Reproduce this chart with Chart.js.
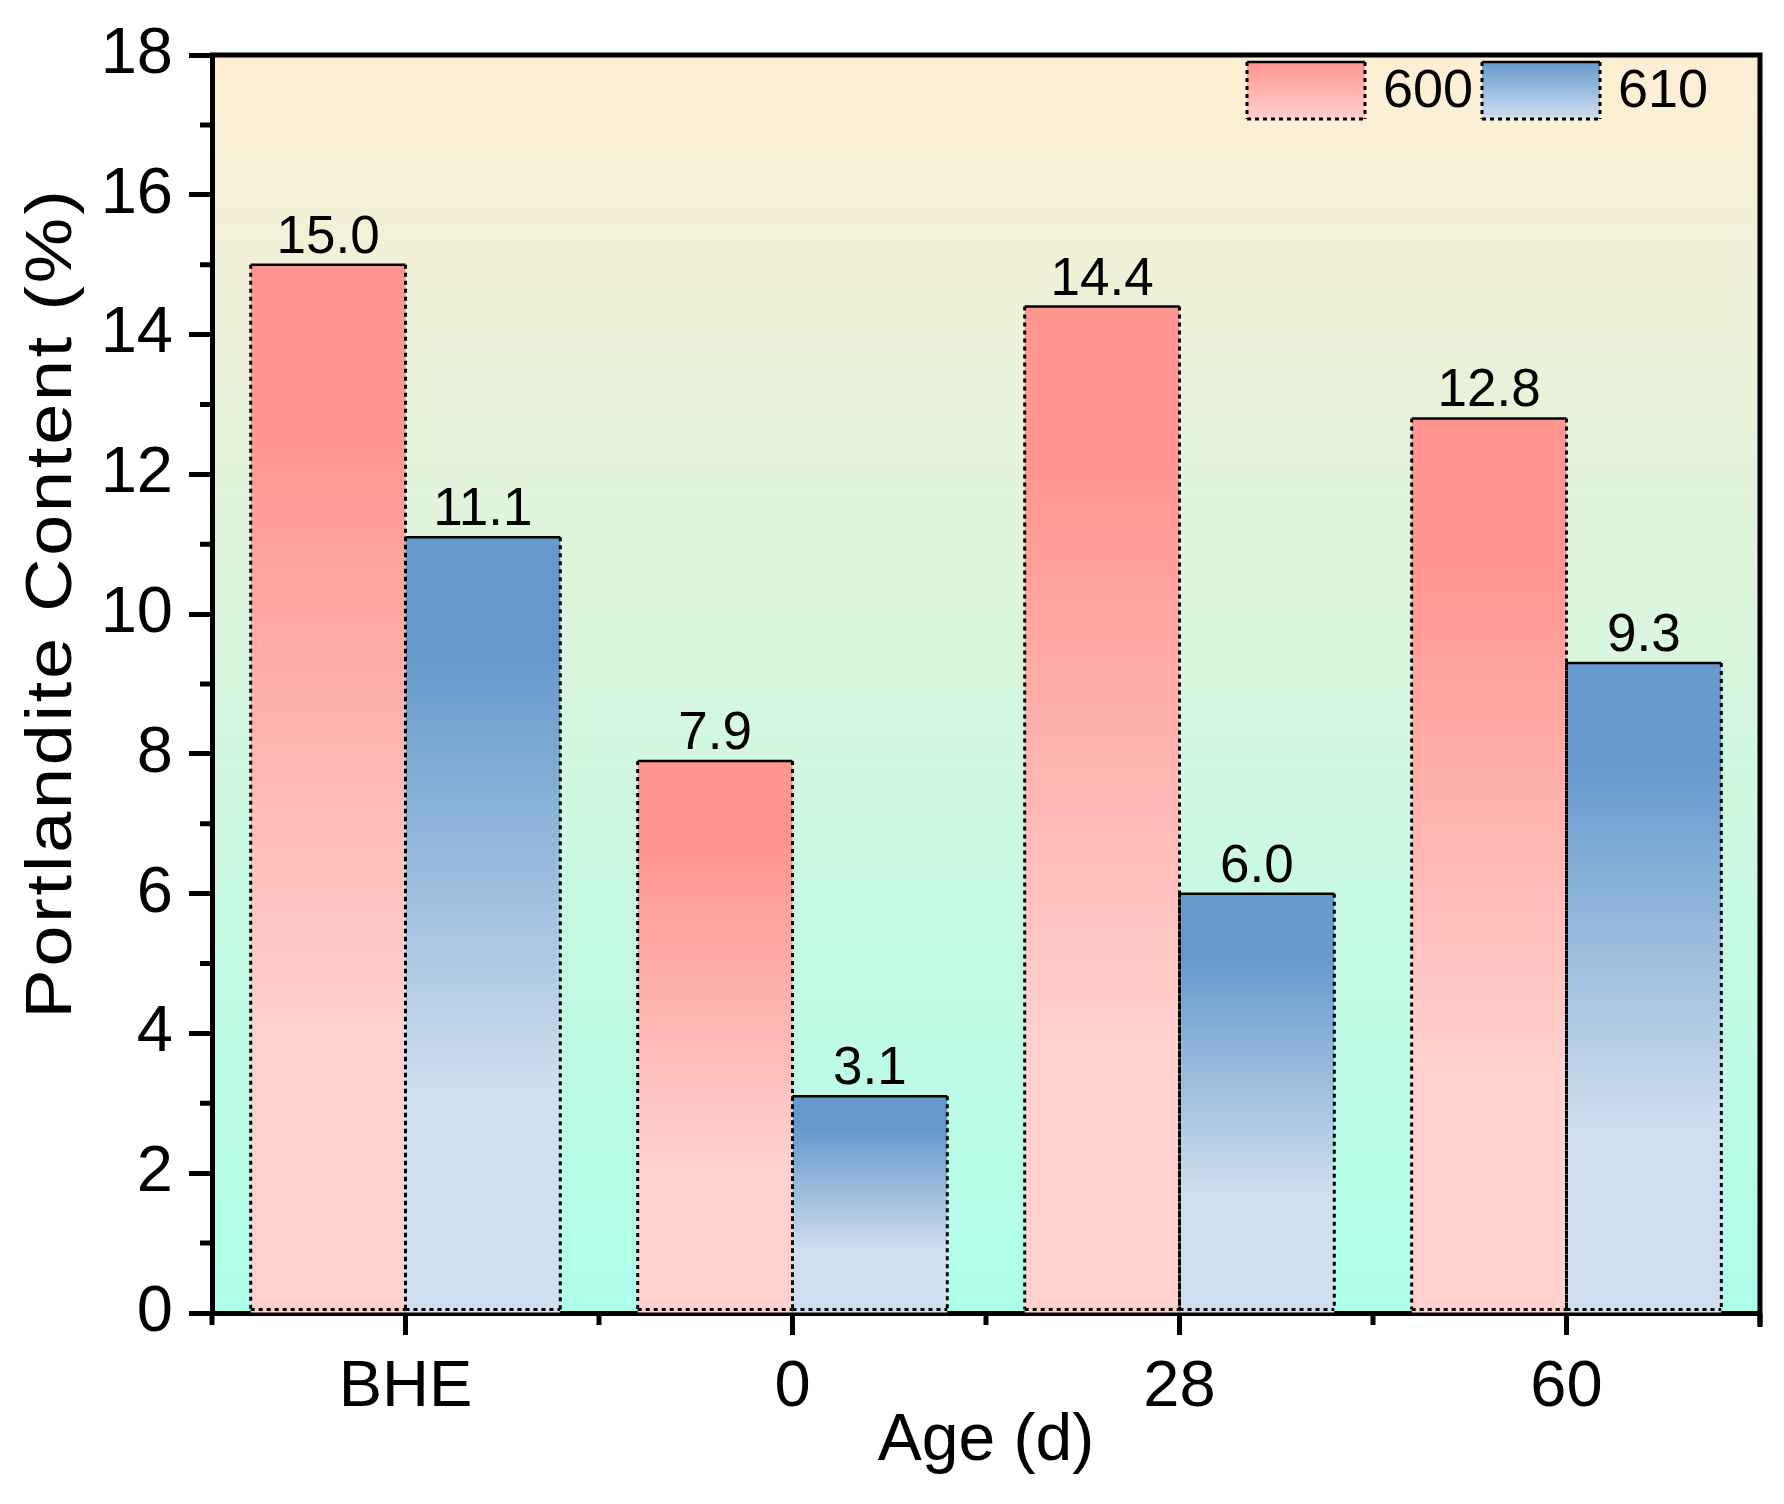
<!DOCTYPE html>
<html>
<head>
<meta charset="utf-8">
<script src="https://cdn.jsdelivr.net/npm/chart.js@4.4.0/dist/chart.umd.min.js"></script>
<style>
  html, body { margin: 0; padding: 0; background: #fff; }
  canvas { display: block; }
</style>
</head>
<body>
<canvas id="chart" width="1784" height="1504"></canvas>
<script>
// data
const categories = ['BHE', '0', '28', '60'];
const seriesNames = ['600', '610'];
const values600 = [15.0, 7.9, 14.4, 12.8];
const values610 = [11.1, 3.1, 6.0, 9.3];
const yMin = 0, yMax = 18, yStep = 2;
const yTitle = 'Portlandite Content (%)';
const xTitle = 'Age (d)';

const FONT = "'Liberation Sans', Arial, sans-serif";
// top colour, light colour
const PINK = ['#ff958f', '#ffd0cd'];
const BLUE = ['#6699cc', '#cfdfef'];

function barFill(cols) {
    return (c) => {
        const chart = c.chart;
        if (!chart.chartArea || c.raw === undefined) return cols[0];
        const y = chart.scales.y;
        const g = chart.ctx.createLinearGradient(0, y.getPixelForValue(c.raw), 0, y.getPixelForValue(0));
        g.addColorStop(0, cols[0]);
        g.addColorStop(0.15, cols[0]);
        g.addColorStop(0.72, cols[1]);
        g.addColorStop(1, cols[1]);
        return g;
    };
}

function dottedBox(ctx, x0, y0, x1, y1) {
    ctx.strokeStyle = '#000';
    ctx.lineWidth = 3;
    ctx.setLineDash([4, 4]);
    ctx.beginPath();
    ctx.moveTo(x0, y0); ctx.lineTo(x0, y1);
    ctx.moveTo(x1, y0); ctx.lineTo(x1, y1);
    ctx.moveTo(x0, y1); ctx.lineTo(x1, y1);
    ctx.stroke();
    ctx.setLineDash([]);
    ctx.lineWidth = 2.5;
    ctx.beginPath();
    ctx.moveTo(x0, y0); ctx.lineTo(x1, y0);
    ctx.stroke();
}

const decor = {
    id: 'decor',
    beforeDraw(chart) {
        const { ctx, chartArea: a } = chart;
        ctx.save();
        ctx.fillStyle = '#fff';
        ctx.fillRect(0, 0, chart.width, chart.height);
        const g = ctx.createLinearGradient(0, a.top, 0, a.bottom);
        g.addColorStop(0, '#feeed3');
        g.addColorStop(1, '#aeffea');
        ctx.fillStyle = g;
        ctx.fillRect(a.left, a.top, a.right - a.left, a.bottom - a.top);
        ctx.restore();
    },
    afterDatasetsDraw(chart) {
        const ctx = chart.ctx;
        ctx.save();
        chart.data.datasets.forEach((ds, i) => {
            chart.getDatasetMeta(i).data.forEach((bar, j) => {
                const x0 = bar.x - bar.width / 2, x1 = bar.x + bar.width / 2;
                dottedBox(ctx, x0, bar.y, x1, bar.base - 3);
                ctx.fillStyle = '#000';
                ctx.font = '53px ' + FONT;
                ctx.textAlign = 'center';
                ctx.textBaseline = 'alphabetic';
                ctx.fillText(ds.data[j].toFixed(1), bar.x, bar.y - 12);
            });
        });
        ctx.restore();
    },
    afterDraw(chart) {
        const { ctx, chartArea: a, scales } = chart;
        ctx.save();
        ctx.strokeStyle = '#000';
        ctx.lineWidth = 5;
        // frame top and right
        ctx.beginPath();
        ctx.moveTo(a.left - 2, a.top);
        ctx.lineTo(a.right, a.top);
        ctx.lineTo(a.right, a.bottom + 14);
        ctx.stroke();
        // minor ticks
        ctx.beginPath();
        for (let v = yMin + 1; v < yMax; v += yStep) {
            const y = scales.y.getPixelForValue(v);
            ctx.moveTo(a.left - 12, y); ctx.lineTo(a.left, y);
        }
        for (let i = 0; i <= categories.length; i++) {
            const x = scales.x.getPixelForValue(i - 0.5);
            ctx.moveTo(x, a.bottom); ctx.lineTo(x, a.bottom + 12);
        }
        ctx.stroke();

        // y title, stretched a bit like the original
        ctx.save();
        ctx.translate(71, (a.top + a.bottom) / 2 - 81);
        ctx.rotate(-Math.PI / 2);
        ctx.scale(1.15, 1);
        ctx.fillStyle = '#000';
        ctx.font = '64px ' + FONT;
        ctx.letterSpacing = '2.5px';
        ctx.textAlign = 'center';
        ctx.textBaseline = 'alphabetic';
        ctx.fillText(yTitle, 0, 0);
        ctx.restore();

        // legend
        const cols = [PINK, BLUE];
        const boxX = [a.right - 513, a.right - 278];
        const by = a.top + 7, bw = 118, bh = 57;
        seriesNames.forEach((name, i) => {
            const g = ctx.createLinearGradient(0, by, 0, by + bh);
            g.addColorStop(0, cols[i][0]);
            g.addColorStop(1, cols[i][1]);
            ctx.fillStyle = g;
            ctx.fillRect(boxX[i], by, bw, bh);
            dottedBox(ctx, boxX[i], by, boxX[i] + bw, by + bh);
            ctx.fillStyle = '#000';
            ctx.font = '54px ' + FONT;
            ctx.textAlign = 'left';
            ctx.textBaseline = 'middle';
            ctx.fillText(name, boxX[i] + 136, by + bh / 2 + 2);
        });
        ctx.restore();
    }
};

new Chart(document.getElementById('chart').getContext('2d'), {
    type: 'bar',
    data: {
        labels: categories,
        datasets: [
            { label: seriesNames[0], data: values600, backgroundColor: barFill(PINK), borderWidth: 0 },
            { label: seriesNames[1], data: values610, backgroundColor: barFill(BLUE), borderWidth: 0 }
        ]
    },
    options: {
        responsive: false,
        animation: false,
        devicePixelRatio: 1,
        layout: { padding: { top: 51, right: 24, left: 0, bottom: 0 } },
        datasets: { bar: { categoryPercentage: 0.8, barPercentage: 1.0 } },
        plugins: { legend: { display: false }, tooltip: { enabled: false } },
        scales: {
            x: {
                offset: true,
                grid: { drawOnChartArea: false, offset: false, tickLength: 22, tickWidth: 5, tickColor: '#000' },
                border: { display: true, color: '#000', width: 5 },
                ticks: { color: '#000', font: { family: FONT, size: 65 }, padding: 14, maxRotation: 0 },
                title: { display: true, text: xTitle, color: '#000', font: { family: FONT, size: 66 }, padding: { top: 0, bottom: 23 } },
                afterFit(s) { s.height = 191; }
            },
            y: {
                min: yMin,
                max: yMax,
                ticks: { stepSize: yStep, color: '#000', font: { family: FONT, size: 65 }, padding: 16 },
                grid: { drawOnChartArea: false, tickLength: 23, tickWidth: 5, tickColor: '#000' },
                border: { display: true, color: '#000', width: 5 },
                title: { display: false },
                afterFit(s) { s.width = 212; }
            }
        }
    },
    plugins: [decor]
});
</script>
</body>
</html>
